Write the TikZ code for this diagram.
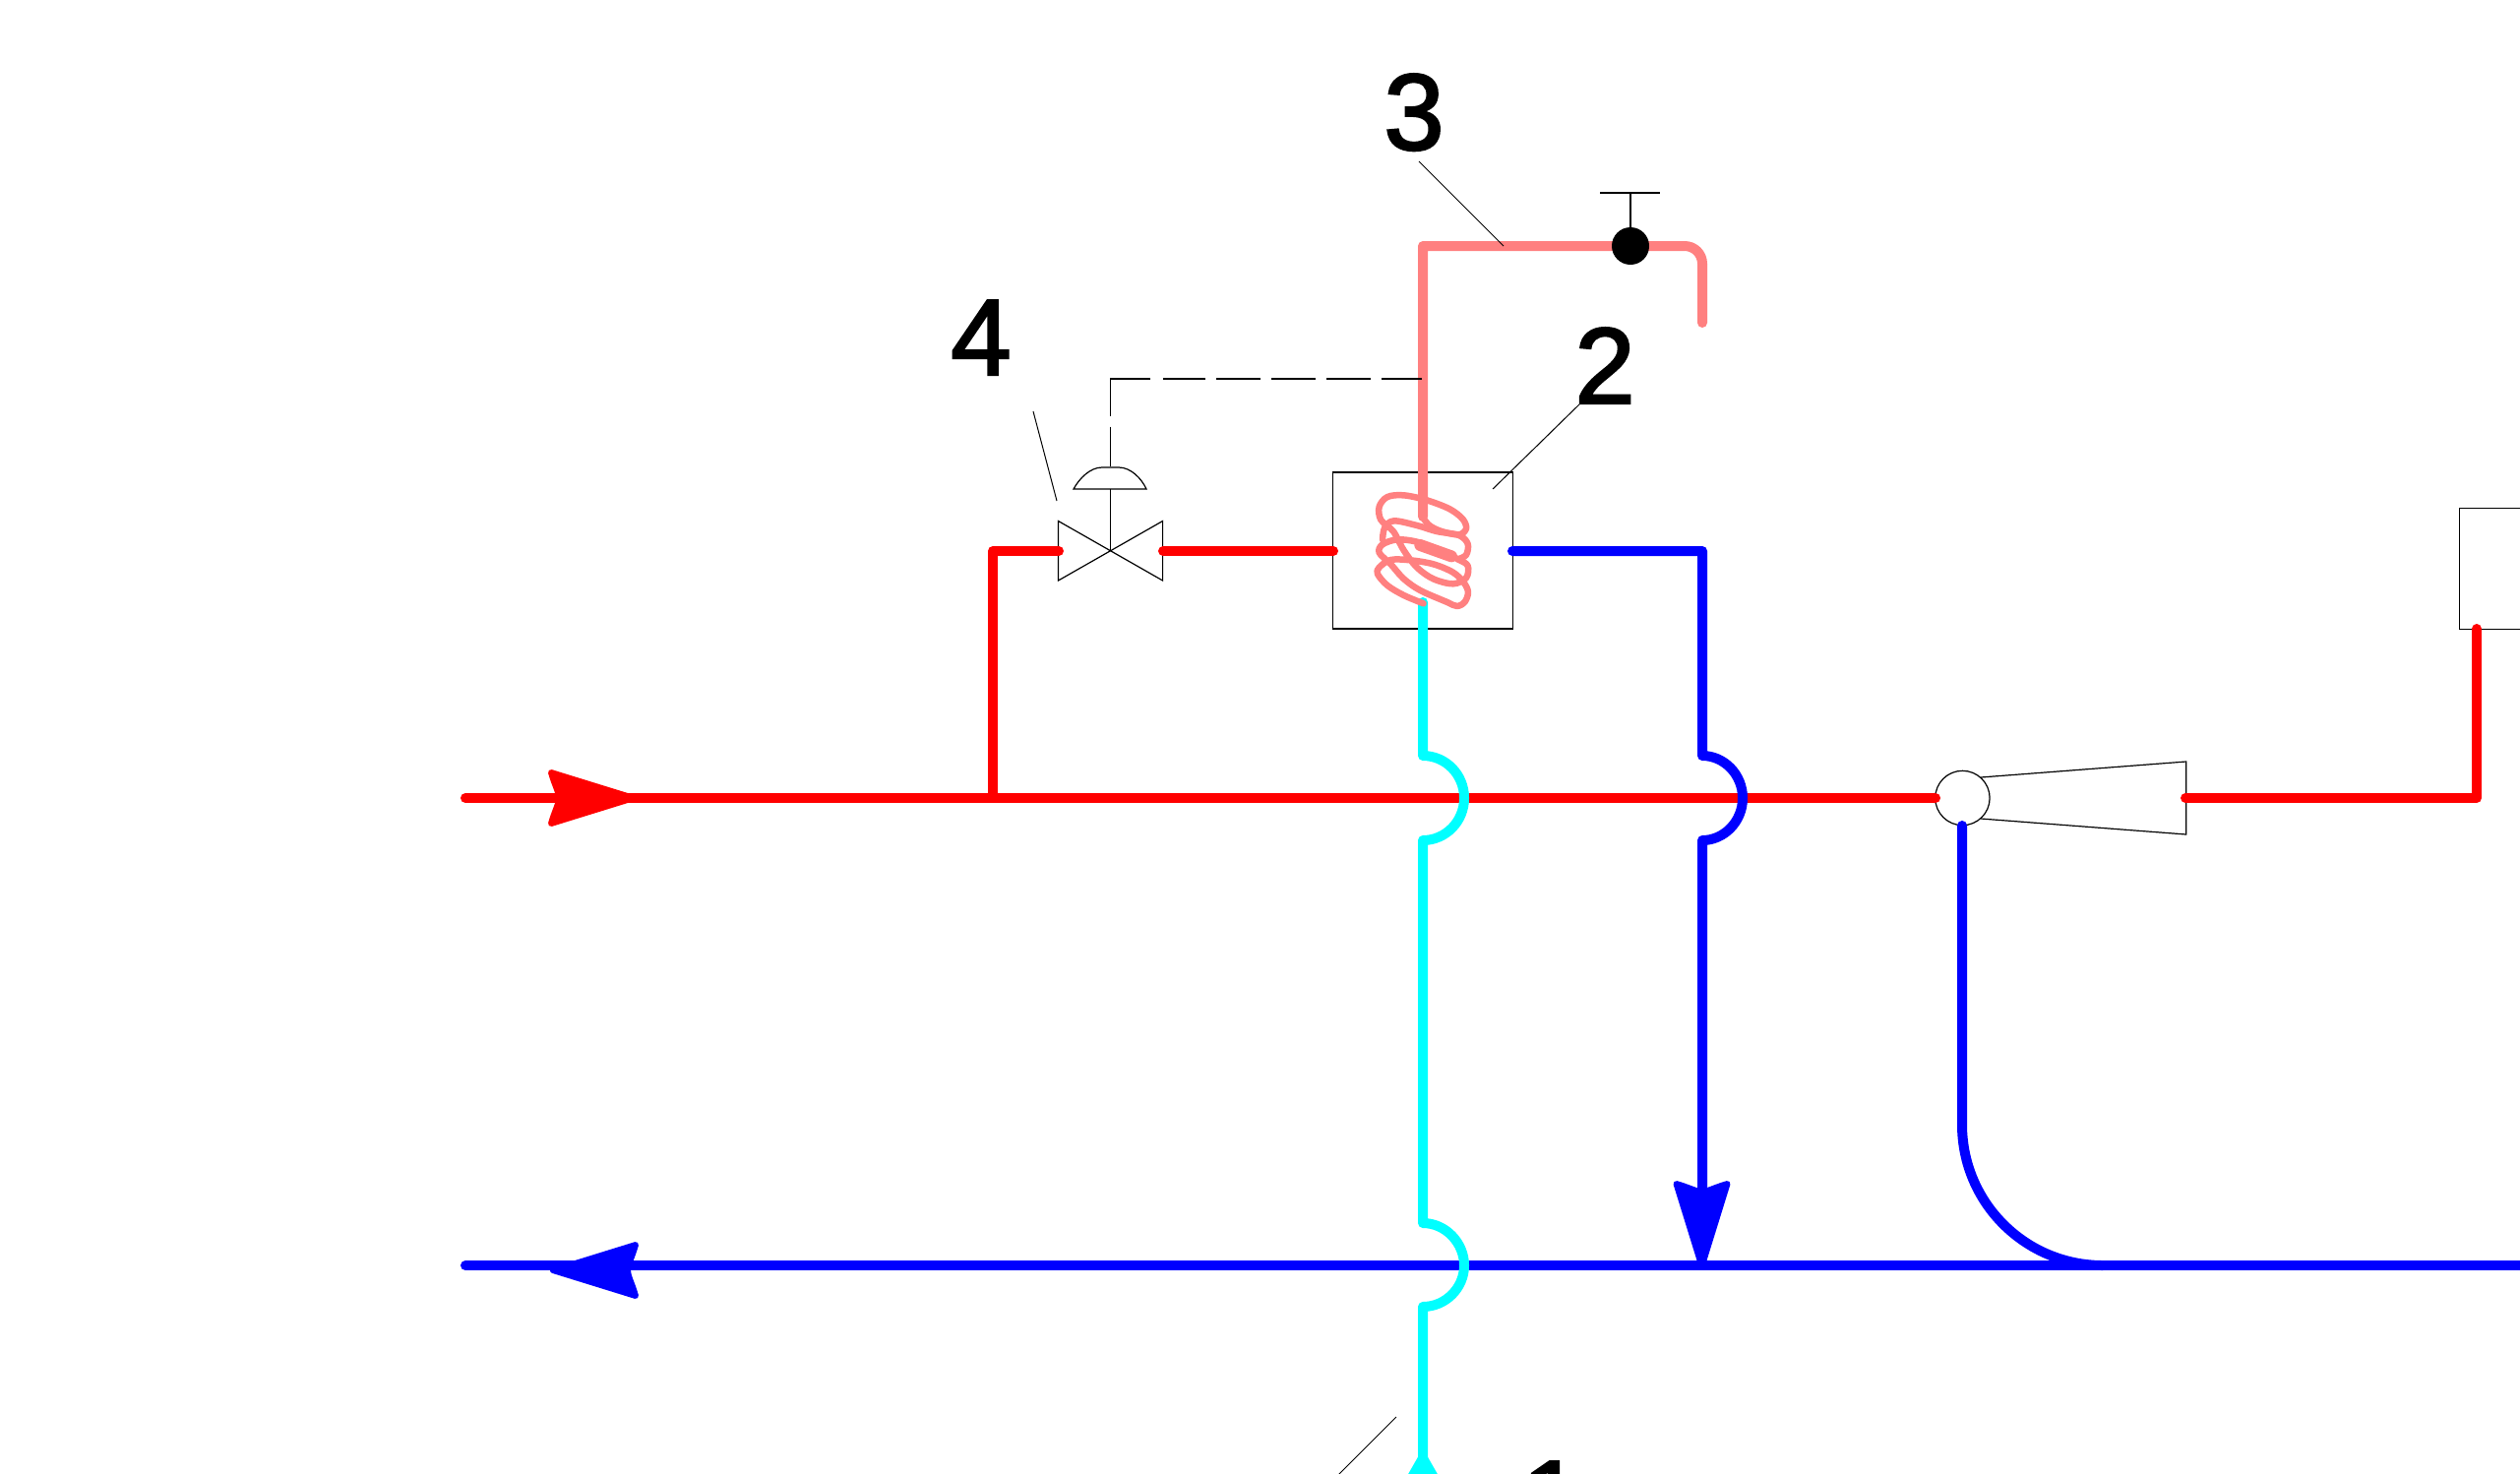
\documentclass[tikz,border=0pt]{standalone}
\usepackage{fontspec}
\setmainfont{Liberation Sans}
\newfontfamily\numfont[FakeBold=2.2]{Liberation Sans}
\definecolor{pinkpipe}{RGB}{255,128,128}
\definecolor{purered}{RGB}{255,0,0}
\definecolor{pureblue}{RGB}{0,0,255}
\definecolor{purecyan}{RGB}{0,255,255}
\tikzset{
  x=1pt,y=-1pt,
  thin line/.style={draw=black,line width=1.2pt},
  pipe/.style={line width=10pt,line cap=round,line join=round},
  redpipe/.style={pipe,draw=purered},
  bluepipe/.style={pipe,draw=pureblue},
  cyanpipe/.style={pipe,draw=purecyan},
  pinkline/.style={pipe,draw=pinkpipe},
  coilline/.style={draw=pinkpipe,line width=6.5pt,line cap=round,line join=round},
  numlabel/.style={anchor=base,inner sep=0pt,font=\numfont\fontsize{110}{110}\selectfont},
  pics/flowtip/.style={code={
    \path[pic actions,line width=6pt,line join=round]
      (4,0) -- (-80,-26) .. controls (-76,-12) and (-72,-6) .. (-72,0)
      .. controls (-72,6) and (-76,12) .. (-80,26) -- cycle;}}
}
\begin{document}
\begin{tikzpicture}
\path[use as bounding box,fill=white] (0,0) rectangle (2561,1497);
\clip (0,0) rectangle (2561,1497);

% equipment boxes and thin symbols
\node[thin line,rectangle,inner sep=0pt,minimum width=183.5pt,minimum height=159pt] (hx) at (1446,559.5) {};
\node[thin line,rectangle,inner sep=0pt,minimum width=100pt,minimum height=123pt,anchor=north west] (rbox) at (2498.6,516) {};
\node[thin line,circle,inner sep=0pt,minimum size=55.4pt] (ej) at (1994.4,811) {};

\coordinate (ejA) at (2013,790);
\coordinate (ejB) at (2221.7,774);
\coordinate (ejC) at (2221.7,848);
\coordinate (ejD) at (2013,832);
\draw[thin line] (ejA) -- (ejB) -- (ejC) -- (ejD);

\coordinate (vc) at (1128.5,560);
\draw[thin line] (1075.5,529.5) -- (1181.6,590) -- (1181.6,529.5) -- (1075.5,590) -- cycle;
\coordinate (domeL) at (1091,497);
\coordinate (domeR) at (1165,497);
\draw[thin line] (domeL) .. controls (1097,486) and (1108,475) .. (1120,475) -- (1137,475)
   .. controls (1149,475) and (1160,486) .. (domeR) -- cycle;
\coordinate (domeB) at (1128.5,497);
\coordinate (domeT) at (1128.5,475);
\draw[thin line] (domeB) -- (vc);

% leaders
\coordinate (l3a) at (1442,164); \coordinate (l3b) at (1528,250);
\coordinate (l2a) at (1605,411); \coordinate (l2b) at (1517,497);
\coordinate (l4a) at (1050,418); \coordinate (l4b) at (1074,509);
\coordinate (l1a) at (1419,1440); \coordinate (l1b) at (1360,1499);
\draw[thin line,line width=1pt] (l2a) -- (l2b);
\draw[thin line,line width=1pt] (l4a) -- (l4b);
\draw[thin line,line width=1pt] (l1a) -- (l1b);

% red pipes
\coordinate (rS) at (473,811);
\coordinate (rBr) at (1009,811);
\coordinate (rE) at (1967,811);
\coordinate (rTop) at (1009,560);
\coordinate (rV) at (1076,560);
\draw[redpipe] (rS) -- (rE);
\draw[redpipe] (rBr) -- (rTop) -- (rV);
\draw[redpipe] (1182,560) -- (1355,560);
\coordinate (rO) at (2221,811);
\coordinate (rC) at (2517,811);
\coordinate (rB) at (2517,639);
\draw[redpipe] (rO) -- (rC) -- (rB);
\pic[draw=purered,fill=purered] at (640,811) {flowtip};

% blue pipes
\coordinate (bS) at (473,1286);
\coordinate (bE) at (2600,1286);
\draw[bluepipe] (bS) -- (bE);
\draw[bluepipe] (1537,560) -- (1730,560) -- (1730,768)
  .. controls (1752,768) and (1771,787) .. (1771,811)
  .. controls (1771,835) and (1752,854) .. (1730,854) -- (1730,1240);
\draw[bluepipe] (1994,839) -- (1994,1143) .. controls (1994,1222) and (2058,1286) .. (2137,1286);
\pic[draw=pureblue,fill=pureblue,rotate=-90] at (1729.5,1283) {flowtip};
\pic[draw=pureblue,fill=pureblue,rotate=180] at (566,1291) {flowtip};

% cyan pipe
\draw[cyanpipe] (1446,1490) -- (1446,1328)
  .. controls (1469,1328) and (1488,1309) .. (1488,1286)
  .. controls (1488,1263) and (1469,1243) .. (1446,1243) -- (1446,854)
  .. controls (1469,854) and (1488,835) .. (1488,811)
  .. controls (1488,787) and (1469,768) .. (1446,768) -- (1446,612);
\coordinate (cTip) at (1446,1472);
\fill[purecyan] (cTip) -- (1430,1500) -- (1462,1500) -- cycle;

% pink hot-water pipe and coil
\draw[pinkline] (1446,525) -- (1446,250) -- (1712,250)
  .. controls (1722,250) and (1730,258) .. (1730,268) -- (1730,328);
\draw[thin line,line width=1pt] (l3a) -- (l3b);

% impulse line
\coordinate (impS) at (1445,385);
\coordinate (impC) at (1128.5,385);
\draw[thin line,dash pattern=on 41pt off 11pt on 45pt off 11pt on 45pt off 11pt on 45pt off 11pt on 43pt off 13pt on 78pt off 11pt on 40pt off 1000pt]
  (impS) -- (impC) -- (domeT);

\begin{scope}[shift={(1300,460)},x=0.3333pt,y=-0.3333pt]
\draw[coilline] plot[smooth,tension=0.55] coordinates {
 (438,197) (458,222) (495,240) (548,250) (570,232) (560,203) (520,172) (450,145)
 (380,130) (330,135) (305,165) (310,205) (348,240) (380,298) (420,350) (470,385)
 (530,400) (570,382) (575,345) (545,325) (480,295) (420,272) (360,265) (315,280)
 (305,305) (340,340) (380,385) (430,420) (510,455) (542,468) (566,455) (576,425) (562,395)
 (530,365) (470,340) (400,328) (340,327) (305,350) (300,370) (330,405) (380,435) (440,460)};
\draw[coilline] plot[smooth,tension=0.55] coordinates {
 (315,265) (322,228) (350,208) (420,222) (480,240) (548,252) (575,278) (570,312) (545,325)};
\draw[draw=pinkpipe,line width=12pt,line cap=round] (430,282) -- (525,316);
\end{scope}

% thermostat on pink pipe
\node[circle,fill=black,inner sep=0pt,minimum size=38pt] (ball) at (1657,250) {};
\coordinate (tTop) at (1657,196);
\coordinate (tL) at (1626,196);
\coordinate (tR) at (1687,196);
\draw[thin line] (ball) -- (tTop);
\draw[thin line] (tL) -- (tR);

% labels
\node[numlabel] (n3) at (1437,152) {3};
\node[numlabel] (n2) at (1631,410) {2};
\node[numlabel] (n4) at (997,381) {4};
\node[numlabel] (n1) at (1577,1561) {1};
\end{tikzpicture}
\end{document}
